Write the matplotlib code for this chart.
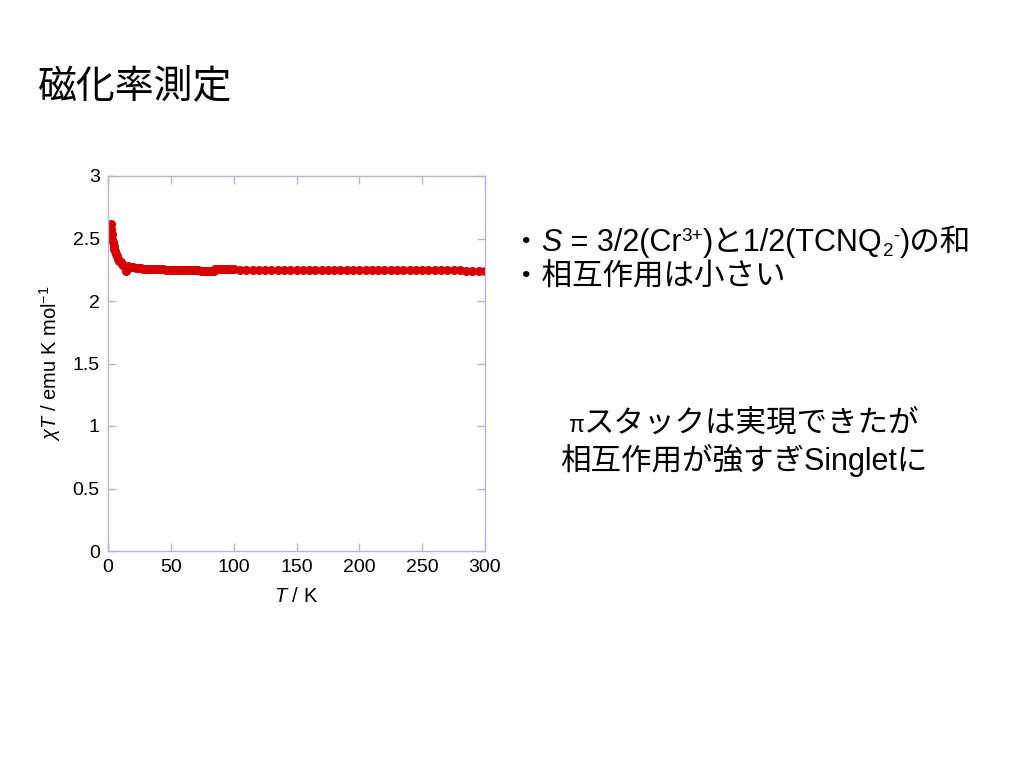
import matplotlib
matplotlib.use("Agg")
import matplotlib.pyplot as plt
from matplotlib.transforms import IdentityTransform

plt.rcParams['font.family'] = ['Liberation Sans', 'Noto Sans CJK JP', 'DejaVu Sans']
plt.rcParams['mathtext.fontset'] = 'custom'
plt.rcParams['mathtext.rm'] = 'Liberation Sans'
plt.rcParams['mathtext.it'] = 'Liberation Sans:italic'

# chi*T vs T
temp_low = [2, 2.5, 3, 3.5, 4, 4.5, 5, 5.5, 6, 7, 8, 9, 10, 11, 12, 13, 14]
chit_low = [2.62, 2.58, 2.54, 2.50, 2.47, 2.44, 2.42, 2.40, 2.38, 2.36,
            2.34, 2.32, 2.31, 2.30, 2.29, 2.28, 2.24]

temp_mid = [16, 18, 20, 22, 24, 26, 28, 30, 32, 34, 36, 38, 40, 42, 44, 46,
            48, 50, 52, 54, 56, 58, 60, 62, 64, 66, 68, 70, 72, 74, 76, 78,
            80, 82, 84]
chit_mid = [2.28, 2.27, 2.27, 2.265, 2.265, 2.262, 2.26, 2.26, 2.258, 2.257,
            2.256, 2.255, 2.255, 2.254, 2.253, 2.252, 2.252, 2.251, 2.25, 2.25,
            2.249, 2.248, 2.248, 2.247, 2.247, 2.246, 2.246, 2.245, 2.245,
            2.244, 2.244, 2.244, 2.243, 2.243, 2.244]

temp_dense = [85, 86, 87, 88, 89, 90, 91, 92, 93, 94, 95, 96, 97, 98, 99, 100]
chit_dense = [2.255, 2.258, 2.258, 2.257, 2.257, 2.257, 2.256, 2.256, 2.256,
              2.255, 2.255, 2.255, 2.254, 2.254, 2.253, 2.253]

temp_high = [105, 110, 115, 120, 125, 130, 135, 140, 145, 150, 155, 160, 165,
             170, 175, 180, 185, 190, 195, 200, 205, 210, 215, 220, 225, 230,
             235, 240, 245, 250, 255, 260, 265, 270, 275, 280, 285, 290, 295,
             300]
chit_high = [2.252, 2.252, 2.252, 2.251, 2.251, 2.251, 2.251, 2.251, 2.25,
             2.25, 2.25, 2.25, 2.25, 2.25, 2.25, 2.25, 2.25, 2.25, 2.25, 2.25,
             2.25, 2.25, 2.25, 2.25, 2.25, 2.25, 2.25, 2.25, 2.25, 2.25, 2.249,
             2.249, 2.248, 2.248, 2.247, 2.252, 2.243, 2.243, 2.244, 2.24]

temperature = temp_low + temp_mid + temp_dense + temp_high
chi_t = chit_low + chit_mid + chit_dense + chit_high

x_ticks = [0, 50, 100, 150, 200, 250, 300]
y_ticks = [0, 0.5, 1, 1.5, 2, 2.5, 3]
y_tick_labels = ['0', '0.5', '1', '1.5', '2', '2.5', '3']

frame_col = '#b4b4dc'
red = '#d60000'
W, H = 1024, 768


def draw_runs(fig, x0, y0, runs, size, center=False):
    # runs: (text, size factor, baseline shift in px, italic)
    renderer = fig.canvas.get_renderer()
    texts = []
    x = x0
    for s, f, dy, it in runs:
        t = fig.text(x, H - y0 + dy, s, transform=IdentityTransform(),
                     fontsize=size * f, ha='left', va='baseline',
                     style='italic' if it else 'normal')
        x = t.get_window_extent(renderer).x1
        texts.append(t)
    if center:
        shift = (x - x0) / 2
        for t in texts:
            px, py = t.get_position()
            t.set_position((px - shift, py))


fig = plt.figure(figsize=(10.24, 7.68), dpi=100)
fig.patch.set_facecolor('white')

ax = fig.add_axes([108 / W, 1 - 551 / H, 377 / W, 375 / H])
ax.plot(temperature, chi_t, color=red, lw=2.2, marker='o', ms=5.5,
        markeredgecolor=red, markerfacecolor=red)
ax.set_xlim(0, 300)
ax.set_ylim(0, 3)
ax.set_xticks(x_ticks)
ax.set_yticks(y_ticks)
ax.set_yticklabels(y_tick_labels)
for s in ax.spines.values():
    s.set_color(frame_col)
    s.set_linewidth(1)
ax.tick_params(direction='in', length=6, width=1, color=frame_col,
               top=True, right=True, labelsize=14, pad=6)
ax.set_xlabel('$T$ / K', fontsize=14.5, labelpad=8)
ax.set_ylabel(r'$\chi T$ / emu K mol$^{-1}$', fontsize=14.5, labelpad=7)

fig.text(38 / W, 1 - 87 / H, '磁化率測定', fontsize=28,
         ha='left', va='center')

fs = 22
draw_runs(fig, 511, 251, [
    ('・', 1, 0, False),
    ('S', 1, 0, True),
    (' = 3/2(Cr', 1, 0, False),
    ('3+', 0.62, 10, False),
    (')と1/2(TCNQ', 1, 0, False),
    ('2', 0.62, -5, False),
    ('-', 0.62, 10, False),
    (')の和', 1, 0, False),
], fs)
draw_runs(fig, 511, 286, [('・相互作用は小さい', 1, 0, False)], fs)

draw_runs(fig, 744, 432, [
    ('π', 0.75, 0, False),
    ('スタックは実現できたが', 1, 0, False),
], fs, center=True)
draw_runs(fig, 744, 470, [('相互作用が強すぎSingletに', 1, 0, False)], fs,
          center=True)

fig.savefig('out.png', dpi=100)
